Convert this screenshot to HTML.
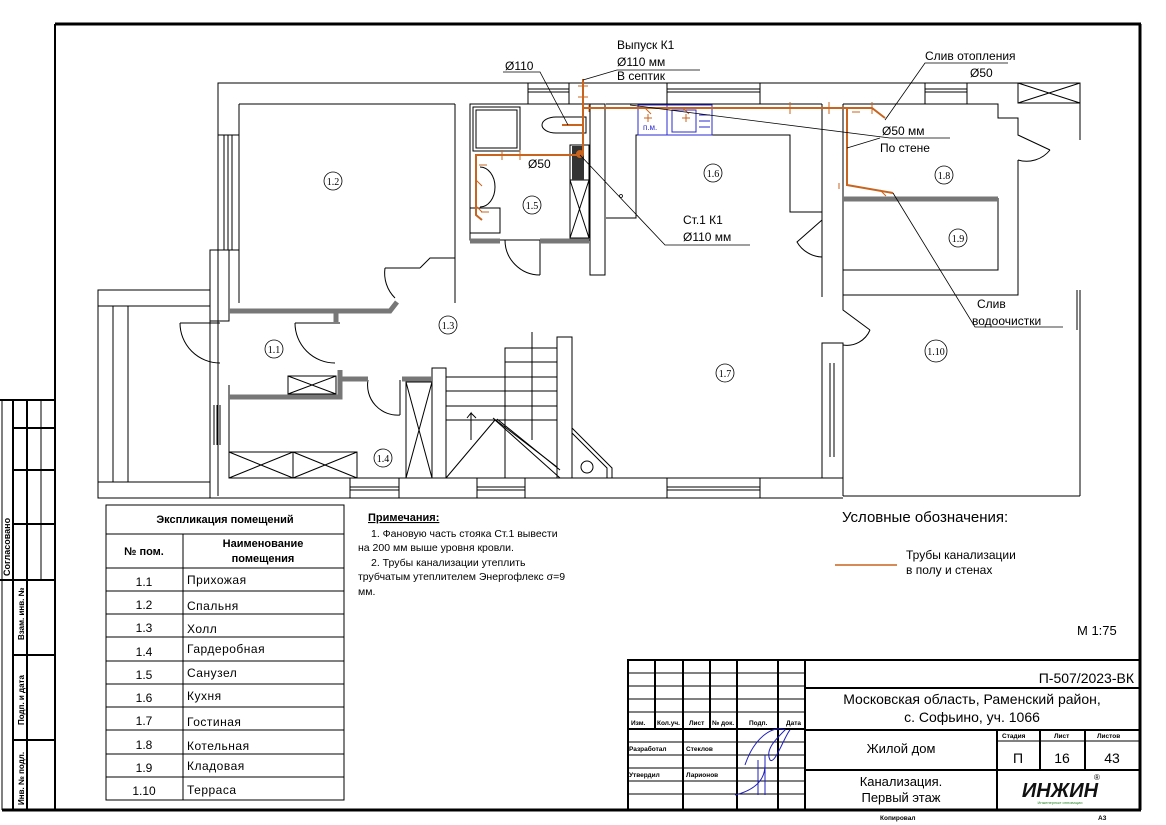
<!DOCTYPE html>
<html><head><meta charset="utf-8"><style>
html,body{margin:0;padding:0;background:#fff}
svg{display:block}
text{font-family:"Liberation Sans",sans-serif;fill:#000}
.t{font-size:12px}
.s{font-size:8px}
.rn{font-family:"Liberation Serif",serif;font-size:10px}
</style></head><body>
<svg width="1166" height="825" viewBox="0 0 1166 825" xmlns="http://www.w3.org/2000/svg">
<rect width="1166" height="825" fill="#fff"/>
<g stroke="#000" fill="none">
<line x1="55" y1="24" x2="1141" y2="24" stroke-width="3"/>
<line x1="55" y1="24" x2="55" y2="810" stroke-width="2"/>
<line x1="1140" y1="24" x2="1140" y2="810" stroke-width="3"/>
<line x1="2" y1="810" x2="1141" y2="810" stroke-width="3"/>
<line x1="2" y1="400" x2="2" y2="810" stroke-width="1"/>
<line x1="0" y1="400" x2="55" y2="400" stroke-width="2"/>
<line x1="13" y1="400" x2="13" y2="810" stroke-width="2"/>
<line x1="27" y1="400" x2="27" y2="810" stroke-width="2"/>
<line x1="41" y1="400" x2="41" y2="580" stroke-width="1"/>
<line x1="13" y1="428" x2="55" y2="428" stroke-width="2"/>
<line x1="13" y1="470" x2="55" y2="470" stroke-width="2"/>
<line x1="13" y1="524" x2="55" y2="524" stroke-width="2"/>
<line x1="0" y1="580" x2="55" y2="580" stroke-width="2"/>
<line x1="13" y1="655" x2="55" y2="655" stroke-width="2"/>
<line x1="13" y1="740" x2="55" y2="740" stroke-width="2"/>
</g>
<text transform="translate(10,576) rotate(-90)" style="font-size:9px;font-weight:bold">Согласовано</text>
<text transform="translate(24,640) rotate(-90)" style="font-size:8px;font-weight:bold">Взам. инв. №</text>
<text transform="translate(24,725) rotate(-90)" style="font-size:8px;font-weight:bold">Подп. и дата</text>
<text transform="translate(24,805) rotate(-90)" style="font-size:8px;font-weight:bold">Инв. № подл.</text>

<g stroke="#000" stroke-width="1" fill="none">
<polyline points="218,496 218,83 1080,83"/>
<line x1="239" y1="104" x2="239" y2="303"/>
<line x1="239" y1="104" x2="455" y2="104"/>
<line x1="455" y1="104" x2="455" y2="303"/>
<line x1="224" y1="135" x2="224" y2="250"/><line x1="228" y1="135" x2="228" y2="250"/><line x1="232" y1="135" x2="232" y2="250"/>
<line x1="218" y1="135" x2="239" y2="135"/><line x1="218" y1="250" x2="239" y2="250"/>
<rect x="470" y="104" width="120" height="136"/>
<rect x="473" y="107" width="47" height="44"/><rect x="476" y="110" width="41" height="38"/>
<rect x="590" y="104" width="15" height="171"/>
<rect x="570" y="145" width="19" height="35"/>
<rect x="570" y="180" width="19" height="58"/>
<line x1="570" y1="180" x2="589" y2="238"/><line x1="589" y1="180" x2="570" y2="238"/>
<path d="M556,117 a14,8 0 1,0 0,16 h30 v-16 z"/>
<path d="M480,167 a15,20 0 0,1 0,40"/>
<rect x="470" y="208" width="30" height="25"/>
<rect x="528" y="83" width="41" height="21"/><line x1="528" y1="89" x2="569" y2="89"/><line x1="528" y1="92" x2="569" y2="92"/>
<rect x="667" y="83" width="93" height="21"/><line x1="667" y1="89" x2="760" y2="89"/><line x1="667" y1="92" x2="760" y2="92"/>
<rect x="925" y="83" width="42" height="21"/><line x1="925" y1="89" x2="967" y2="89"/><line x1="925" y1="92" x2="967" y2="92"/>
<rect x="1018" y="83" width="62" height="20"/><line x1="1018" y1="83" x2="1080" y2="103"/><line x1="1080" y1="83" x2="1018" y2="103"/>
<polyline points="606,104 822,104"/>
<polyline points="606,218 636,218 636,135 790,135 790,212 822,212"/>
<line x1="822" y1="104" x2="822" y2="297"/>
<line x1="843" y1="104" x2="843" y2="297"/>
<polyline points="843,104 998,104 998,118 1018,118 1018,135 1050,150"/>
<polyline points="1018,160 1018,295 843,295"/>
<polyline points="843,270 998,270 998,198"/>
<path d="M1050,150 a30,30 0 0,1 -32,10"/>
<path d="M822,220 l-25,22 a30,30 0 0,0 25,15"/>
<line x1="1080" y1="83" x2="1080" y2="140"/>
<line x1="1077" y1="290" x2="1077" y2="330"/><line x1="1080" y1="290" x2="1080" y2="496"/>
<polyline points="843,297 843,310 870,330"/>
<path d="M870,330 a25,25 0 0,1 -27,15"/>
<line x1="843" y1="345" x2="843" y2="496"/>
<line x1="843" y1="496" x2="1080" y2="496"/>
<rect x="822" y="343" width="21" height="135"/>
<line x1="830" y1="363" x2="830" y2="457"/><line x1="834" y1="363" x2="834" y2="457"/>
<line x1="98" y1="498" x2="843" y2="498"/>
<line x1="229" y1="478" x2="822" y2="478"/>
<rect x="350" y="478" width="49" height="20"/><line x1="350" y1="487" x2="399" y2="487"/><line x1="350" y1="490" x2="399" y2="490"/>
<rect x="477" y="478" width="48" height="20"/><line x1="477" y1="487" x2="525" y2="487"/><line x1="477" y1="490" x2="525" y2="490"/>
<rect x="667" y="478" width="93" height="20"/><line x1="667" y1="487" x2="760" y2="487"/><line x1="667" y1="490" x2="760" y2="490"/>
<rect x="98" y="290" width="112" height="208"/>
<line x1="98" y1="306" x2="210" y2="306"/><line x1="98" y1="482" x2="210" y2="482"/>
<line x1="113" y1="306" x2="113" y2="482"/><line x1="128" y1="306" x2="128" y2="482"/>
<rect x="210" y="250" width="19" height="71"/>
<line x1="210" y1="385" x2="210" y2="498"/><line x1="229" y1="385" x2="229" y2="478"/>
<line x1="214" y1="405" x2="214" y2="445"/><line x1="217" y1="405" x2="217" y2="445"/><line x1="220" y1="405" x2="220" y2="445"/>
<path d="M180,323 a40,40 0 0,0 40,40"/><line x1="180" y1="323" x2="220" y2="323"/>
<path d="M295,323 a40,40 0 0,0 40,40"/><line x1="295" y1="323" x2="340" y2="323"/>
<rect x="288" y="376" width="48" height="18"/><line x1="288" y1="376" x2="336" y2="394"/><line x1="336" y1="376" x2="288" y2="394"/>
<rect x="229" y="452" width="128" height="26"/><line x1="293" y1="452" x2="293" y2="478"/>
<line x1="229" y1="452" x2="293" y2="478"/><line x1="293" y1="452" x2="229" y2="478"/>
<line x1="293" y1="452" x2="357" y2="478"/><line x1="357" y1="452" x2="293" y2="478"/>
<path d="M368,380 a30,30 0 0,0 32,35"/><line x1="400" y1="380" x2="400" y2="415"/>
<rect x="406" y="382" width="26" height="96"/><line x1="406" y1="382" x2="432" y2="478"/><line x1="432" y1="382" x2="406" y2="478"/>
<rect x="432" y="368" width="14" height="110"/>
<path d="M385,268 a35,35 0 0,0 10,30"/><line x1="385" y1="268" x2="420" y2="268"/>
<polyline points="420,268 430,258 455,258"/>
<path d="M505,240 a35,35 0 0,0 35,35"/>
<line x1="540" y1="240" x2="540" y2="275"/>
<rect x="557" y="337" width="15" height="141"/>
<rect x="505" y="348" width="52" height="130"/>
<line x1="532" y1="332" x2="532" y2="440"/>
<line x1="505" y1="362" x2="557" y2="362"/><line x1="505" y1="377" x2="557" y2="377"/><line x1="505" y1="391" x2="557" y2="391"/><line x1="505" y1="406" x2="557" y2="406"/><line x1="505" y1="420" x2="557" y2="420"/>
<rect x="446" y="377" width="59" height="101"/>
<line x1="446" y1="391" x2="505" y2="391"/><line x1="446" y1="406" x2="505" y2="406"/><line x1="446" y1="420" x2="505" y2="420"/>
<line x1="446" y1="478" x2="495" y2="420"/>
<polyline points="471,440 471,413 467,418 471,413 476,418"/>
<line x1="495" y1="420" x2="560" y2="478"/><line x1="493" y1="418" x2="557" y2="467"/><line x1="497" y1="419" x2="560" y2="470"/>
<path d="M572,428 l40,40 v10 M572,433 l35,35 v10"/>
<circle cx="587" cy="467" r="6"/>
<line x1="572" y1="337" x2="572" y2="478"/>
</g>
<g stroke="#777" stroke-width="5" fill="none">
<polyline points="229,311 390,311 397,302"/>
<line x1="336" y1="311" x2="336" y2="322"/>
<polyline points="229,397 340,397 340,370"/>
<line x1="340" y1="379" x2="368" y2="379"/>
<line x1="402" y1="379" x2="432" y2="379"/>
<line x1="470" y1="241" x2="500" y2="241"/>
<line x1="540" y1="241" x2="589" y2="241"/>
<line x1="843" y1="199" x2="998" y2="199"/>
</g>
<g stroke="#2b2bd0" fill="none" stroke-width="1">
<rect x="638" y="105" width="74" height="30"/>
<line x1="667" y1="105" x2="667" y2="135"/>
<rect x="672" y="110" width="24" height="22"/>
<line x1="699" y1="115" x2="710" y2="115"/><line x1="699" y1="121" x2="710" y2="121"/><line x1="699" y1="127" x2="710" y2="127"/>
</g>
<text x="643" y="130" style="font-size:8px;fill:#2b2bd0">п.м.</text>
<rect x="572" y="146" width="12" height="34" fill="#333"/>
<g stroke="#c8641e" stroke-width="2" fill="none">
<polyline points="583,79 583,153"/>
<polyline points="583,108 847,108 847,185 893,193"/>
<polyline points="847,108 872,108 885,118"/>
<polyline points="583,155 476,155 476,215 482,220"/>
<line x1="562" y1="125" x2="583" y2="125"/>
<circle cx="580" cy="154" r="3" fill="#c8641e"/>
</g>
<g stroke="#c8641e" stroke-width="1" fill="none">
<path d="M578,86h10M578,97h10M589,104v8M645,108l6,6M648,114v8M644,118h8M683,108l6,6M686,114v8M682,118h8M790,102v12M829,102v12M872,102v12M852,112h8M839,183v6M880,190l6,6M502,150v10M520,150v10M476,180l6,6M479,165h8M476,206l6,6M481,212h8"/>
</g>
<g stroke="#000" stroke-width="0.8" fill="none">
<polyline points="503,72 540,72 568,125"/>
<polyline points="583,80 617,70 700,70"/>
<polyline points="580,155 665,245 750,245"/>
<polyline points="630,105 890,138 950,138"/>
<polyline points="847,148 880,138"/>
<polyline points="885,120 925,63 1008,63"/>
<polyline points="893,193 975,327 1063,327"/>
<circle cx="621" cy="196" r="1.5"/>
</g>
<text x="505" y="70" class="t">Ø110</text>
<text x="617" y="49" class="t">Выпуск К1</text>
<text x="617" y="66" class="t">Ø110 мм</text>
<text x="617" y="80" class="t">В септик</text>
<text x="925" y="60" class="t">Слив отопления</text>
<text x="970" y="77" class="t">Ø50</text>
<text x="882" y="135" class="t">Ø50 мм</text>
<text x="880" y="152" class="t">По стене</text>
<text x="528" y="168" class="t">Ø50</text>
<text x="683" y="224" class="t">Ст.1 К1</text>
<text x="683" y="241" class="t">Ø110 мм</text>
<text x="977" y="308" class="t">Слив</text>
<text x="972" y="325" class="t">водоочистки</text>
<g stroke="#000" fill="none" stroke-width="0.8">
<circle cx="333" cy="181" r="9"/><circle cx="532" cy="205" r="9"/><circle cx="713" cy="173" r="9"/>
<circle cx="944" cy="175" r="9"/><circle cx="958" cy="238" r="9"/><circle cx="448" cy="325" r="9"/>
<circle cx="274" cy="349" r="9"/><circle cx="725" cy="373" r="9"/><circle cx="936" cy="351" r="11"/><circle cx="383" cy="458" r="9"/>
</g>
<g text-anchor="middle">
<text x="333" y="185" class="rn">1.2</text><text x="532" y="209" class="rn">1.5</text><text x="713" y="177" class="rn">1.6</text>
<text x="944" y="179" class="rn">1.8</text><text x="958" y="242" class="rn">1.9</text><text x="448" y="329" class="rn">1.3</text>
<text x="274" y="353" class="rn">1.1</text><text x="725" y="377" class="rn">1.7</text><text x="936" y="355" class="rn">1.10</text><text x="383" y="462" class="rn">1.4</text>
</g>

<g stroke="#000" stroke-width="1" fill="none">
<rect x="106" y="505" width="238" height="295"/>
<line x1="106" y1="534" x2="344" y2="534"/>
<line x1="106" y1="568" x2="344" y2="568"/>
<line x1="183" y1="534" x2="183" y2="800"/>
<line x1="106" y1="591" x2="344" y2="591"/><line x1="106" y1="614" x2="344" y2="614"/><line x1="106" y1="637" x2="344" y2="637"/>
<line x1="106" y1="661" x2="344" y2="661"/><line x1="106" y1="684" x2="344" y2="684"/><line x1="106" y1="707" x2="344" y2="707"/>
<line x1="106" y1="730" x2="344" y2="730"/><line x1="106" y1="754" x2="344" y2="754"/><line x1="106" y1="777" x2="344" y2="777"/>
</g>
<g style="font-size:11px;font-weight:bold" text-anchor="middle">
<text x="225" y="523">Экспликация помещений</text>
<text x="144" y="555">№ пом.</text>
<text x="263" y="547">Наименование</text>
<text x="263" y="562">помещения</text>
</g>
<g style="font-size:12px" text-anchor="middle">
<text x="144" y="586">1.1</text><text x="144" y="609">1.2</text><text x="144" y="632">1.3</text><text x="144" y="656">1.4</text><text x="144" y="679">1.5</text>
<text x="144" y="702">1.6</text><text x="144" y="725">1.7</text><text x="144" y="749">1.8</text><text x="144" y="772">1.9</text><text x="144" y="795">1.10</text>
</g>
<g style="font-size:12px;letter-spacing:0.5px">
<text x="187" y="584">Прихожая</text><text x="187" y="610">Спальня</text><text x="187" y="633">Холл</text><text x="187" y="653">Гардеробная</text><text x="187" y="677">Санузел</text>
<text x="187" y="700">Кухня</text><text x="187" y="726">Гостиная</text><text x="187" y="750">Котельная</text><text x="187" y="770">Кладовая</text><text x="187" y="794">Терраса</text>
</g>
<text x="368" y="521" style="font-size:11px;font-weight:bold;text-decoration:underline">Примечания:</text>
<g style="font-size:10.5px;fill:#222">
<text x="371" y="537">1.    Фановую часть стояка Ст.1   вывести</text>
<text x="358" y="551">на 200 мм выше уровня кровли.</text>
<text x="371" y="566">2.    Трубы канализации утеплить</text>
<text x="358" y="580">трубчатым утеплителем Энергофлекс σ=9</text>
<text x="358" y="595">мм.</text>
</g>
<text x="842" y="522" style="font-size:15px">Условные обозначения:</text>
<line x1="835" y1="565" x2="897" y2="565" stroke="#c8641e" stroke-width="1.5"/>
<text x="906" y="559" style="font-size:12px">Трубы канализации</text>
<text x="906" y="574" style="font-size:12px">в полу и стенах</text>
<text x="1077" y="635" style="font-size:13px">М 1:75</text>

<g stroke="#000" fill="none">
<rect x="628" y="660" width="512" height="150" stroke-width="2"/>
<line x1="805" y1="660" x2="805" y2="810" stroke-width="2"/>
<g stroke-width="1">
<line x1="628" y1="673" x2="805" y2="673"/><line x1="628" y1="686" x2="805" y2="686"/><line x1="628" y1="699" x2="805" y2="699"/>
<line x1="628" y1="712" x2="805" y2="712"/><line x1="628" y1="755" x2="805" y2="755"/><line x1="628" y1="768" x2="805" y2="768"/>
<line x1="628" y1="781" x2="805" y2="781"/><line x1="628" y1="794" x2="805" y2="794"/>
<line x1="737" y1="742" x2="805" y2="742"/>
</g>
<line x1="628" y1="729" x2="805" y2="729" stroke-width="2"/>
<line x1="628" y1="742" x2="737" y2="742" stroke-width="1"/>
<g stroke-width="2">
<line x1="655" y1="660" x2="655" y2="729"/><line x1="683" y1="660" x2="683" y2="810"/><line x1="710" y1="660" x2="710" y2="729"/>
<line x1="737" y1="660" x2="737" y2="810"/><line x1="778" y1="660" x2="778" y2="810"/>
<line x1="805" y1="688" x2="1140" y2="688"/><line x1="805" y1="730" x2="1140" y2="730"/><line x1="805" y1="770" x2="1140" y2="770"/>
<line x1="997" y1="730" x2="997" y2="810"/><line x1="1040" y1="730" x2="1040" y2="770"/><line x1="1085" y1="730" x2="1085" y2="770"/>
</g>
<line x1="997" y1="741" x2="1140" y2="741" stroke-width="1"/>
<path d="M745,765 c10,-30 30,-40 40,-35 c-10,10 -20,20 -15,30 c5,5 15,-25 20,-30 M758,760 v35 M765,755 v40 M735,795 c20,-5 30,-15 30,-30" stroke="#2020c0" stroke-width="1"/>
</g>
<g style="font-size:6.5px;font-weight:bold">
<text x="631" y="725">Изм.</text><text x="657" y="725">Кол.уч.</text><text x="689" y="725">Лист</text><text x="712" y="725">№ док.</text><text x="749" y="725">Подп.</text><text x="786" y="725">Дата</text>
<text x="629" y="751">Разработал</text><text x="686" y="751">Стеклов</text>
<text x="629" y="777">Утвердил</text><text x="686" y="777">Ларионов</text>
<text x="1002" y="738">Стадия</text><text x="1054" y="738">Лист</text><text x="1097" y="738">Листов</text>
<text x="880" y="820">Копировал</text><text x="1098" y="820">А3</text>
</g>
<text x="1134" y="683" text-anchor="end" style="font-size:14px">П-507/2023-ВК</text>
<text x="972" y="704" text-anchor="middle" style="font-size:14px">Московская область, Раменский район,</text>
<text x="972" y="722" text-anchor="middle" style="font-size:14px">с. Софьино, уч. 1066</text>
<text x="901" y="753" text-anchor="middle" style="font-size:13px">Жилой дом</text>
<text x="1018" y="763" text-anchor="middle" style="font-size:14px">П</text>
<text x="1062" y="763" text-anchor="middle" style="font-size:14px">16</text>
<text x="1112" y="763" text-anchor="middle" style="font-size:14px">43</text>
<text x="901" y="786" text-anchor="middle" style="font-size:13px">Канализация.</text>
<text x="901" y="802" text-anchor="middle" style="font-size:13px">Первый этаж</text>
<text x="1060" y="797" text-anchor="middle" style="font-size:20px;font-weight:bold;font-style:italic;fill:#111">ИНЖИН</text>
<text x="1094" y="780" style="font-size:8px">®</text>
<text x="1060" y="804" text-anchor="middle" style="font-size:4px;fill:#2a8a2a">Инженерные инновации</text>
</svg>
</body></html>
